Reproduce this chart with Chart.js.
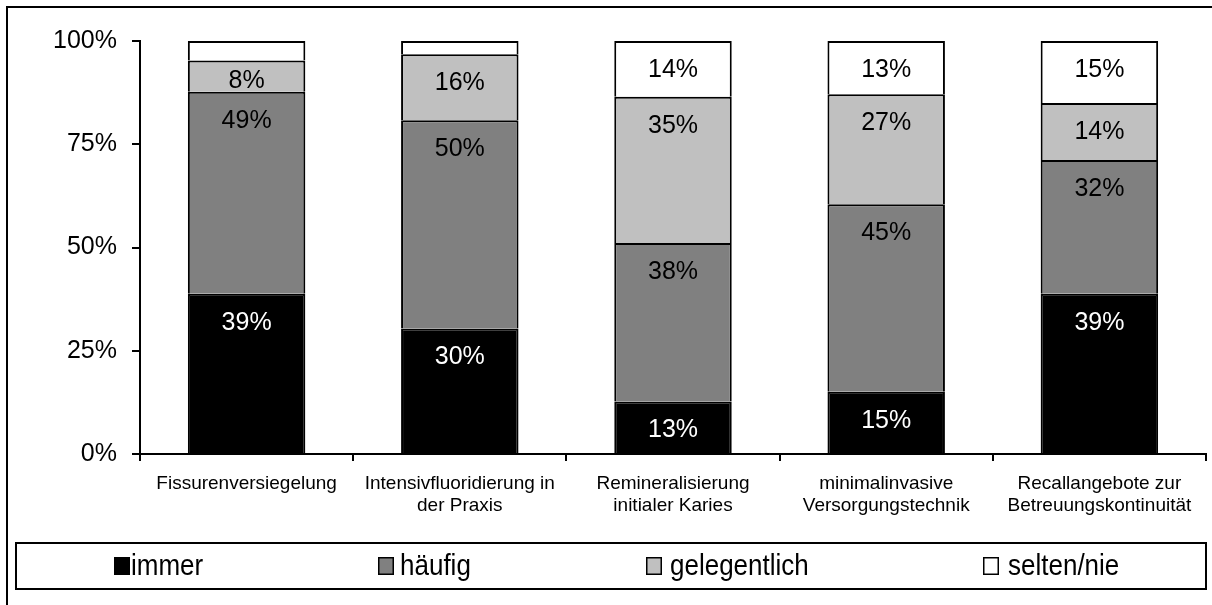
<!DOCTYPE html>
<html>
<head>
<meta charset="utf-8">
<script src="https://cdn.jsdelivr.net/npm/chart.js@4.4.1/dist/chart.umd.min.js"></script>
<style>
  html, body { margin: 0; padding: 0; background: #fff; }
</style>
</head>
<body>
<canvas id="chart" width="1212" height="605"></canvas>
<script>
// ===== Data =====
const categories = [
    'Fissurenversiegelung',
    ['Intensivfluoridierung in', 'der Praxis'],
    ['Remineralisierung', 'initialer Karies'],
    ['minimalinvasive', 'Versorgungstechnik'],
    ['Recallangebote zur', 'Betreuungskontinuität']
];
const seriesNames = ['immer', 'häufig', 'gelegentlich', 'selten/nie'];
const immer        = [38.8, 30.4, 12.7, 15.1, 38.8];
const haeufig      = [48.9, 50.4, 38.4, 45.4, 32.4];
const gelegentlich = [7.6, 16.0, 35.4, 26.6, 13.8];
const selten       = [4.7, 3.2, 13.5, 12.9, 15.0];
const yTicks = [0, 25, 50, 75, 100];

const fills = ['#000000', '#808080', '#c0c0c0', '#ffffff'];
const FONT = '"Liberation Sans", Arial, sans-serif';

// ===== Value labels, drawn near the top of each segment =====
const segLabels = {
    id: 'segLabels',
    afterDatasetsDraw(chart) {
        const ctx = chart.ctx;
        ctx.save();
        ctx.font = `25px ${FONT}`;
        ctx.textAlign = 'center';
        ctx.textBaseline = 'middle';
        chart.data.datasets.forEach((ds, i) => {
            chart.getDatasetMeta(i).data.forEach((bar, j) => {
                const v = ds.data[j];
                if (v < 6) return; // tiny slices stay unlabelled
                const { x, y, base } = bar.getProps(['x', 'y', 'base'], true);
                const h = base - y;
                ctx.fillStyle = i === 0 ? '#fff' : '#000';
                ctx.fillText(Math.round(v) + '%', x, y + Math.min(29, h / 2 + 5));
            });
        });
        ctx.restore();
    }
};

// ===== Frame + boxed legend =====
const frameLegend = {
    id: 'frameLegend',
    afterDraw(chart) {
        const ctx = chart.ctx;
        ctx.save();
        ctx.strokeStyle = '#000';
        ctx.lineWidth = 2;
        ctx.strokeRect(7, 7, 1230, 620); // right/bottom edges fall outside the canvas
        ctx.strokeRect(16, 543, 1190, 46);

        const markX = [114, 378, 646, 983];
        const textX = [131, 400, 670, 1008];
        chart.data.datasets.forEach((ds, i) => {
            ctx.fillStyle = ds.backgroundColor;
            ctx.fillRect(markX[i], 557, 16, 18);
            ctx.lineWidth = 1.5;
            ctx.strokeRect(markX[i] + 0.75, 557.75, 14.5, 16.5);
            ctx.save();
            ctx.translate(textX[i], 575);
            ctx.scale(1, 1.13);
            ctx.fillStyle = '#000';
            ctx.font = `26px ${FONT}`;
            ctx.textBaseline = 'alphabetic';
            ctx.fillText(ds.label, 0, 0);
            ctx.restore();
        });
        ctx.restore();
    }
};

const mkSet = (i, data) => ({
    label: seriesNames[i],
    data: data,
    backgroundColor: fills[i],
    borderColor: '#000',
    borderWidth: 2,
    categoryPercentage: 1,
    barPercentage: 0.551
});

new Chart(document.getElementById('chart'), {
    type: 'bar',
    data: {
        labels: categories,
        datasets: [mkSet(0, immer), mkSet(1, haeufig), mkSet(2, gelegentlich), mkSet(3, selten)]
    },
    options: {
        responsive: false,
        animation: false,
        devicePixelRatio: 1,
        layout: { padding: { top: 41, right: 6, left: 0, bottom: 0 } },
        plugins: { legend: { display: false }, tooltip: { enabled: false } },
        scales: {
            x: {
                stacked: true,
                afterFit: (s) => { s.height = 151; },
                grid: { drawOnChartArea: false, tickLength: 7, color: '#000', lineWidth: 2, offset: true },
                border: { display: true, color: '#000', width: 2 },
                ticks: { color: '#000', font: { family: FONT, size: 19 }, padding: 11, maxRotation: 0, autoSkip: false }
            },
            y: {
                stacked: true,
                min: 0,
                max: 100,
                afterFit: (s) => { s.width = 140; },
                afterBuildTicks: (s) => { s.ticks = yTicks.map(v => ({ value: v })); },
                grid: { drawOnChartArea: false, tickLength: 8, color: '#000', lineWidth: 2 },
                border: { display: true, color: '#000', width: 2 },
                ticks: { color: '#000', font: { family: FONT, size: 25 }, padding: 15, callback: v => v + '%' }
            }
        }
    },
    plugins: [segLabels, frameLegend]
});
</script>
</body>
</html>
